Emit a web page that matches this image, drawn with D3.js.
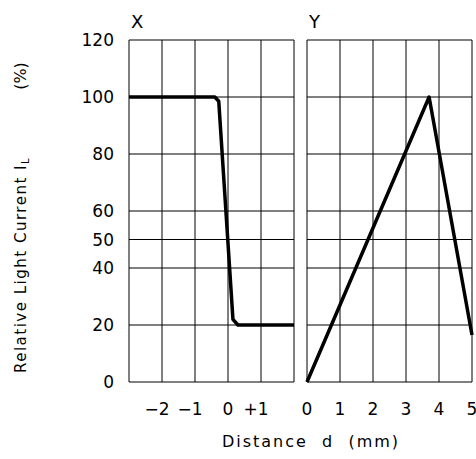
<!DOCTYPE html>
<html><head><meta charset="utf-8">
<script src="https://cdn.jsdelivr.net/npm/d3@7"></script>
<style>body{margin:0;background:#fff}text{font-family:"DejaVu Sans",sans-serif;fill:#000}</style>
</head><body><svg id="c" width="476" height="459"></svg>
<script>
var yTicks = [0, 20, 40, 50, 60, 80, 100, 120];
var xTicksX = [-2, -1, 0, 1];
var xLabelsX = ['\u22122', '\u22121', '0', '+1'];
var xTicksY = [0, 1, 2, 3, 4, 5];
var curveX = [[-3, 100], [-0.4, 100], [-0.28, 98.5], [0.15, 22], [0.3, 20], [2, 20]];
var curveY = [[0, 0], [3.7, 100], [5, 16.5]];

var svg = d3.select('#c');
var y = d3.scaleLinear().domain([0, 120]).range([382, 40]);
var panels = [
  {name: 'X', x: d3.scaleLinear().domain([-3, 2]).range([129, 294]), grid: [-3, -2, -1, 0, 1, 2], ticks: xTicksX, labels: xLabelsX, data: curveX},
  {name: 'Y', x: d3.scaleLinear().domain([0, 5]).range([307, 472]), grid: xTicksY, ticks: xTicksY, labels: xTicksY.map(String), data: curveY}
];

panels.forEach(function (p) {
  var g = svg.append('g');
  var r = p.x.range();
  g.selectAll('.v').data(p.grid).enter().append('line')
    .attr('x1', d => p.x(d)).attr('x2', d => p.x(d))
    .attr('y1', y(0)).attr('y2', y(120)).attr('stroke', '#000').attr('stroke-width', 1);
  g.selectAll('.h').data(yTicks).enter().append('line')
    .attr('x1', r[0]).attr('x2', r[1])
    .attr('y1', d => y(d)).attr('y2', d => y(d)).attr('stroke', '#000').attr('stroke-width', 1);
  g.selectAll('.t').data(p.ticks).enter().append('text')
    .attr('x', (d, i) => p.x(d) - (p.labels[i].length > 1 ? 5 : 0)).attr('y', 415)
    .attr('text-anchor', 'middle').attr('font-size', 17)
    .text((d, i) => p.labels[i]);
  g.append('text').attr('x', r[0] + 2).attr('y', 28).attr('font-size', 18).text(p.name);
  g.append('path').datum(p.data)
    .attr('d', d3.line().x(d => p.x(d[0])).y(d => y(d[1])))
    .attr('fill', 'none').attr('stroke', '#000').attr('stroke-width', 3.5)
    .attr('stroke-linejoin', 'round');
});

svg.selectAll('.yl').data(yTicks).enter().append('text')
  .attr('x', 114).attr('y', d => y(d) + 6).attr('text-anchor', 'end')
  .attr('font-size', 17).text(d => d);

svg.append('text').attr('transform', 'translate(26,265) rotate(-90)')
  .attr('text-anchor', 'middle').attr('font-size', 15).attr('letter-spacing', 1.5)
  .html('Relative Light Current I<tspan font-size="10" dy="3">L</tspan>');
svg.append('text').attr('transform', 'translate(26,76) rotate(-90)')
  .attr('text-anchor', 'middle').attr('font-size', 16).text('(%)');
svg.append('text').attr('x', 311).attr('y', 447).attr('text-anchor', 'middle')
  .attr('font-size', 16).attr('letter-spacing', 2).attr('xml:space', 'preserve')
  .text('Distance  d  (mm)');
</script></body></html>
